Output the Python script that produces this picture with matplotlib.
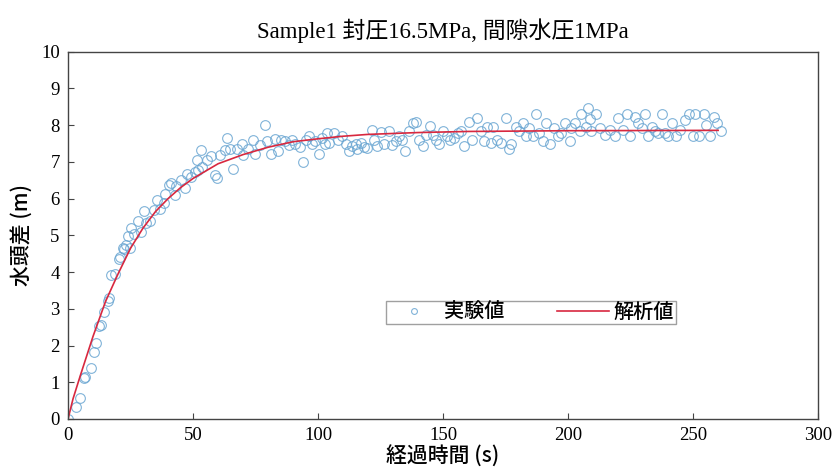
import numpy as np
import matplotlib.pyplot as plt

# measured head difference (experiment)
time_s = [
    0.0, 3.1, 4.9, 6.5, 6.9, 9.2, 10.2, 11.2, 12.5, 13.0,
    14.5, 15.9, 16.5, 17.0, 18.8, 20.2, 20.9, 21.9, 22.5, 23.3,
    24.0, 24.6, 25.2, 26.5, 27.9, 29.2, 30.3, 31.3, 32.6, 34.3,
    35.7, 36.6, 38.4, 38.9, 40.2, 41.0, 42.6, 43.3, 45.0, 46.6,
    47.7, 49.3, 50.9, 51.4, 51.9, 53.3, 53.7, 55.6, 57.3, 58.7,
    59.4, 60.7, 62.7, 63.4, 64.7, 66.1, 67.4, 69.4, 70.1, 72.1,
    73.8, 74.8, 76.8, 78.8, 79.7, 81.1, 82.8, 84.1, 85.1, 86.8,
    88.2, 89.5, 90.8, 92.6, 93.9, 95.2, 96.2, 97.5, 98.9, 100.2,
    101.5, 102.9, 103.5, 104.3, 106.3, 107.9, 109.7, 111.0, 112.3, 113.7,
    115.0, 115.7, 117.0, 118.4, 119.7, 121.7, 122.4, 123.7, 125.3, 126.4,
    128.4, 129.7, 131.1, 132.4, 133.7, 134.7, 136.4, 137.8, 139.1, 140.5,
    141.8, 143.1, 144.9, 145.8, 147.2, 148.5, 149.8, 151.6, 152.9, 154.5,
    155.9, 157.0, 158.4, 160.4, 161.7, 163.7, 165.0, 166.4, 167.7, 169.1,
    170.1, 171.5, 173.1, 175.1, 176.5, 177.1, 179.1, 180.5, 181.8, 183.2,
    184.5, 185.8, 187.2, 188.5, 189.9, 191.2, 192.6, 194.3, 195.9, 197.2,
    198.6, 200.6, 201.3, 202.9, 204.6, 205.3, 207.3, 208.0, 208.7, 209.3,
    211.3, 212.7, 214.7, 216.7, 218.7, 220.0, 222.0, 223.4, 224.7, 226.7,
    228.0, 229.4, 230.7, 232.1, 233.4, 234.8, 236.0, 237.4, 238.8, 240.1,
    241.7, 243.1, 244.8, 246.6, 248.2, 249.8, 250.9, 252.5, 254.3, 255.2,
    256.6, 258.3, 259.6, 261.0,
]
head_m = [
    0.00, 0.32, 0.56, 1.11, 1.13, 1.38, 1.83, 2.08, 2.53, 2.55,
    2.90, 3.22, 3.30, 3.92, 3.95, 4.35, 4.40, 4.66, 4.63, 4.75,
    4.98, 4.66, 5.20, 5.05, 5.38, 5.10, 5.65, 5.33, 5.38, 5.69,
    5.95, 5.73, 5.88, 6.13, 6.38, 6.42, 6.11, 6.35, 6.52, 6.29,
    6.68, 6.59, 6.72, 7.06, 6.78, 7.33, 6.87, 7.06, 7.16, 6.65,
    6.57, 7.18, 7.33, 7.65, 7.36, 6.81, 7.36, 7.50, 7.18, 7.36,
    7.60, 7.22, 7.45, 8.01, 7.58, 7.22, 7.63, 7.31, 7.60, 7.58,
    7.45, 7.60, 7.49, 7.42, 7.01, 7.61, 7.70, 7.50, 7.58, 7.22,
    7.65, 7.49, 7.80, 7.52, 7.80, 7.61, 7.70, 7.48, 7.30, 7.44,
    7.48, 7.36, 7.52, 7.42, 7.39, 7.88, 7.61, 7.44, 7.82, 7.48,
    7.83, 7.45, 7.57, 7.70, 7.61, 7.30, 7.83, 8.06, 8.10, 7.61,
    7.44, 7.74, 7.98, 7.74, 7.61, 7.48, 7.83, 7.70, 7.61, 7.65,
    7.78, 7.83, 7.43, 8.10, 7.61, 8.20, 7.83, 7.57, 7.96, 7.52,
    7.96, 7.61, 7.52, 8.20, 7.34, 7.48, 7.96, 7.83, 8.05, 7.70,
    7.92, 7.70, 8.30, 7.78, 7.57, 8.05, 7.48, 7.92, 7.70, 7.78,
    8.05, 7.57, 7.92, 8.05, 7.83, 8.30, 7.96, 8.47, 8.17, 7.83,
    8.30, 7.92, 7.74, 7.87, 7.70, 8.20, 7.87, 8.30, 7.70, 8.22,
    8.05, 7.92, 8.30, 7.70, 7.96, 7.83, 7.80, 8.30, 7.78, 7.70,
    8.05, 7.70, 7.87, 8.15, 8.30, 7.70, 8.30, 7.70, 8.30, 8.00,
    7.70, 8.22, 8.05, 7.83,
]

# analytical solution
model_t = [0, 2, 5, 10, 15, 20, 25, 30, 35, 40, 45, 50, 55, 60, 70,
           80, 90, 100, 110, 120, 140, 160, 200, 260]
model_h = [0.0, 0.55, 1.2, 2.25, 3.2, 3.95, 4.65, 5.2, 5.65, 6.0, 6.3, 6.55, 6.75,
           6.95, 7.2, 7.4, 7.55, 7.63, 7.7, 7.75, 7.8, 7.83, 7.85, 7.86]

jp = ['Noto Sans CJK JP', 'DejaVu Sans']
serif = ['Liberation Serif', 'Noto Sans CJK JP']

fig = plt.figure(figsize=(8.4, 4.75), dpi=100)
ax = fig.add_axes([0.081, 0.118, 0.893, 0.773])

ax.plot(time_s, head_m, 'o', ms=7, mfc='none', mec='#6aa6d2', mew=0.8,
        alpha=0.85, label='実験値')
ax.plot(model_t, model_h, '-', color='#d8283f', lw=1.2, label='解析値')

ax.set_xlim(0, 300)
ax.set_ylim(0, 10)
ax.set_xticks(np.arange(0, 301, 50))
ax.set_yticks(np.arange(0, 11, 1))
ax.tick_params(direction='in', length=4, width=0.8, color='#444444',
               labelsize=13.5, pad=6)
for lab in ax.get_xticklabels() + ax.get_yticklabels():
    lab.set_family(serif)
for sp in ax.spines.values():
    sp.set_color('#444444')
    sp.set_linewidth(1.0)

ax.set_title('Sample1 封圧16.5MPa, 間隙水圧1MPa', family=serif,
             fontsize=16.5, pad=10)
ax.set_xlabel('経過時間 (s)', family=jp, fontsize=15, fontweight='medium',
              labelpad=1)
ax.set_ylabel('水頭差 (m)', family=jp, fontsize=15, fontweight='medium',
              labelpad=6)

leg = ax.legend(loc='center', bbox_to_anchor=(0.617, 0.289), ncol=2,
                prop={'family': jp, 'size': 14.5, 'weight': 'medium'},
                fancybox=False, edgecolor='#888888', markerscale=0.6,
                handlelength=2.6, columnspacing=2.6, borderpad=0.1,
                handletextpad=0.2, borderaxespad=0)
leg.get_frame().set_linewidth(1.0)

fig.savefig('out.png', dpi=100)
